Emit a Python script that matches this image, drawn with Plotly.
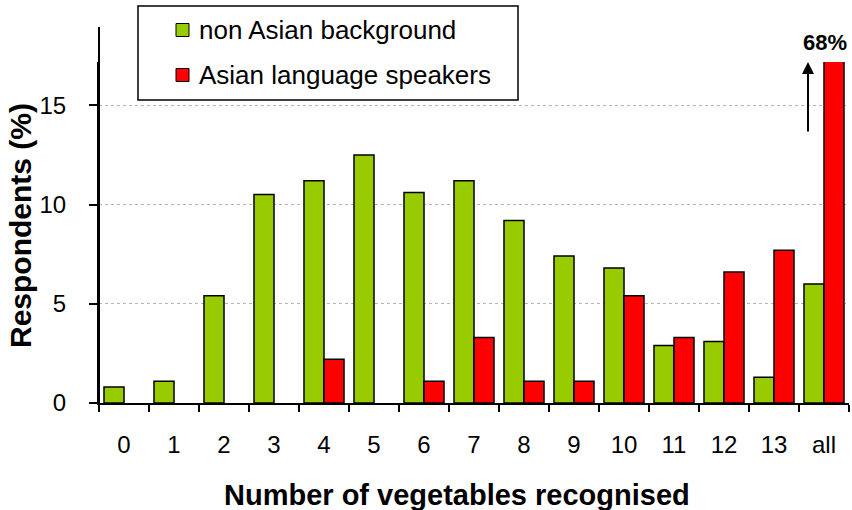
import plotly.graph_objects as go

categories = ["0", "1", "2", "3", "4", "5", "6", "7", "8", "9", "10", "11", "12", "13", "all"]
non_asian = [0.8, 1.1, 5.4, 10.5, 11.2, 12.5, 10.6, 11.2, 9.2, 7.4, 6.8, 2.9, 3.1, 1.3, 6.0]
asian = [0, 0, 0, 0, 2.2, 0, 1.1, 3.3, 1.1, 1.1, 5.4, 3.3, 6.6, 7.7, 68]
series_names = ["non Asian background", "Asian language speakers"]
colors = ["#99CC00", "#FF0000"]
y_ticks = [0, 5, 10, 15]

W, H = 852, 510
L, R, T, B = 99, 849, 62, 403


def px(x):
    return (x - L) / (R - L)


def py(y):
    return (B - y) / (B - T)


FONT = "Liberation Sans, Arial, sans-serif"

fig = go.Figure()
for name, vals, col in zip(series_names, [non_asian, asian], colors):
    fig.add_trace(go.Bar(
        x=categories, y=vals, name=name,
        marker=dict(color=col, line=dict(color="black", width=[1.5 if v > 0 else 0 for v in vals])),
        showlegend=False,
    ))

shapes = [
    # y-axis line extended above plot area
    dict(type="line", xref="paper", yref="paper", x0=0, x1=0, y0=0, y1=py(27),
         line=dict(color="black", width=2)),
    # legend box
    dict(type="rect", xref="paper", yref="paper", x0=px(138), x1=px(518), y0=py(6), y1=py(100),
         line=dict(color="black", width=1.5), fillcolor="white", layer="above"),
]
annotations = []
legend_rows = [30, 75]
for name, col, yc in zip(series_names, colors, legend_rows):
    shapes.append(dict(type="rect", xref="paper", yref="paper",
                       x0=px(176), x1=px(189), y0=py(yc - 6.5), y1=py(yc + 6.5),
                       line=dict(color="black", width=1), fillcolor=col, layer="above"))
    annotations.append(dict(xref="paper", yref="paper", x=px(197), y=py(yc),
                            xanchor="left", yanchor="middle", showarrow=False,
                            text=name, font=dict(family=FONT, size=26, color="black")))

# axis titles
annotations.append(dict(xref="paper", yref="paper", x=px(457), y=py(495),
                        xanchor="center", yanchor="middle", showarrow=False,
                        text="<b>Number of vegetables recognised</b>",
                        font=dict(family=FONT, size=29, color="black")))
annotations.append(dict(xref="paper", yref="paper", x=px(20), y=py(226),
                        xanchor="center", yanchor="middle", showarrow=False, textangle=-90,
                        text="<b>Respondents (%)</b>",
                        font=dict(family=FONT, size=30, color="black")))
# 68% label and arrow
annotations.append(dict(xref="paper", yref="paper", x=px(825), y=py(42),
                        xanchor="center", yanchor="middle", showarrow=False,
                        text="<b>68%</b>", font=dict(family=FONT, size=22, color="black")))
annotations.append(dict(xref="paper", yref="paper", x=px(808), y=py(62),
                        ax=0, ay=71, text="", showarrow=True,
                        arrowhead=2, arrowsize=1.2, arrowwidth=2, arrowcolor="black"))

fig.update_layout(
    width=W, height=H,
    margin=dict(l=L, r=W - R, t=T, b=H - B, pad=0),
    paper_bgcolor="white", plot_bgcolor="white",
    barmode="group", bargap=0.2, bargroupgap=0,
    font=dict(family=FONT, size=24, color="black"),
    shapes=shapes, annotations=annotations,
    xaxis=dict(type="category", range=[-0.5, 14.5], showline=True, linecolor="black", linewidth=2,
               ticks="outside", tickson="boundaries", ticklen=7, tickwidth=2, tickcolor="black",
               showgrid=False, ticklabelstandoff=19,
               tickfont=dict(family=FONT, size=24, color="black")),
    yaxis=dict(range=[0, (B - T) / 19.85], tickvals=y_ticks, showline=True, linecolor="black",
               linewidth=2, ticks="outside", ticklen=8, tickwidth=1.5, tickcolor="black",
               showgrid=True, gridcolor="#b4b4b4", griddash="dot", gridwidth=1,
               zeroline=False, ticklabelstandoff=18,
               tickfont=dict(family=FONT, size=24, color="black")),
)

fig.write_html("out.html", config={"displayModeBar": False})
with open("out.html", encoding="utf-8") as f:
    html = f.read()
html = html.replace("<body>", '<body style="margin:0;padding:0;overflow:hidden">', 1)
with open("out.html", "w", encoding="utf-8") as f:
    f.write(html)
